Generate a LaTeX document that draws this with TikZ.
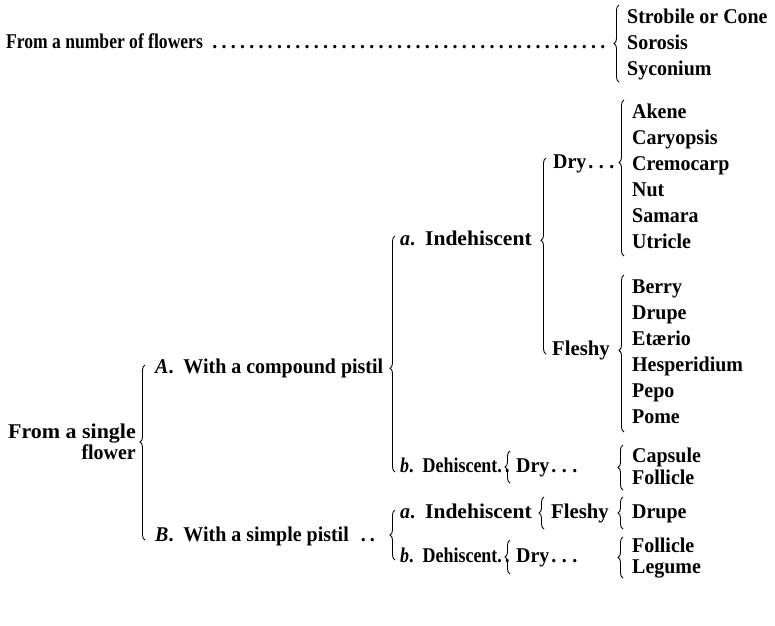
\documentclass[tikz,border=0pt]{standalone}
\usepackage{fontspec}
\usepackage{graphicx}
\setmainfont{Liberation Serif}[FakeStretch=0.95]
\usetikzlibrary{decorations.pathreplacing}
\newcommand{\hsq}[2]{\scalebox{#1}[1]{#2}}
\newcommand{\sdots}{\hspace{2pt}.\hspace{5.5pt}.\hspace{5.5pt}.}
\begin{document}
\begin{tikzpicture}[x=1pt,y=-1pt,
  every node/.style={inner sep=0pt, text height=14pt, text depth=4pt,
    font=\fontsize{21}{26}\selectfont\bfseries},
  lbl/.style={anchor=west},
  item/.style={anchor=west},
  br/.style={decorate, decoration={brace, amplitude=5pt, aspect=#1}, line width=0.9pt},
  br/.default=0.5
]
\useasboundingbox (0,0) rectangle (775,625);

% ---------- from a number of flowers
\node[lbl] (many) at (6,43) {\hsq{0.88}{From a number of flowers}\hspace{4pt}\makebox[404pt]{\dotfill}};
\foreach \t [count=\i] in {Strobile or Cone,Sorosis,Syconium}
  \node[item] (m\i) at (627,18+26*\i-26) {\t};
\coordinate (b1b) at (619,82); \coordinate (b1t) at (619,5);
\draw[br] (b1b) -- (b1t);

% ---------- from a single flower
\node[anchor=east, align=right, text height=, text depth=,
  font=\fontsize{21}{19}\selectfont\bfseries] (single) at (136,442) {\hsq{1.1}{From a single}\\flower};
\coordinate (b8b) at (145,540); \coordinate (b8t) at (145,365);
\draw[br=0.56] (b8b) -- (b8t);

% A. compound pistil
\node[lbl] (A) at (155,368) {\textit{A}.\ \ With a compound pistil};
\coordinate (b5b) at (395,472); \coordinate (b5t) at (395,236);
\draw[br=0.44] (b5b) -- (b5t);

\node[lbl] (aI) at (400,240) {\textit{a}.\ \ \hsq{1.08}{Indehiscent}};
\coordinate (b4b) at (546,354); \coordinate (b4t) at (546,158);
\draw[br=0.58] (b4b) -- (b4t);

\node[lbl] (dry1) at (553,163) {Dry\sdots};
\foreach \t [count=\i] in {Akene,Caryopsis,Cremocarp,Nut,Samara,Utricle}
  \node[item] (d\i) at (632,113+26*\i-26) {\t};
\coordinate (b2b) at (624,256); \coordinate (b2t) at (624,100);
\draw[br=0.6] (b2b) -- (b2t);

\node[lbl] (fl1) at (552,350) {\hsq{1.04}{Fleshy}};
\foreach \t [count=\i] in {Berry,Drupe,Etærio,Hesperidium,Pepo,Pome}
  \node[item] (f\i) at (632,288+26*\i-26) {\t};
\coordinate (b3b) at (624,432); \coordinate (b3t) at (624,275);
\draw[br=0.52] (b3b) -- (b3t);

\node[lbl] (bD) at (400,467) {\hsq{0.9}{\textit{b}.\ \ Dehiscent.\,.}};
\coordinate (b6b) at (510,483); \coordinate (b6t) at (510,451);
\draw[br] (b6b) -- (b6t);
\node[lbl] (dry2) at (516,467) {Dry\sdots};
\node[item] (c1) at (632,457) {Capsule};
\node[item] (c2) at (632,479) {Follicle};
\coordinate (b7b) at (623,490); \coordinate (b7t) at (623,445);
\draw[br] (b7b) -- (b7t);

% B. simple pistil
\node[lbl] (B) at (155,536) {\textit{B}.\ \ With a simple pistil\hspace{12pt}.\hspace{4pt}.};
\coordinate (b9b) at (395,560); \coordinate (b9t) at (395,510);
\draw[br] (b9b) -- (b9t);

\node[lbl] (aI2) at (400,513) {\textit{a}.\ \ \hsq{1.08}{Indehiscent}};
\coordinate (b10b) at (544,529); \coordinate (b10t) at (544,497);
\draw[br] (b10b) -- (b10t);
\node[lbl] (fl2) at (551,513) {\hsq{1.04}{Fleshy}};
\coordinate (b11b) at (623,529); \coordinate (b11t) at (623,497);
\draw[br] (b11b) -- (b11t);
\node[item] (dr) at (632,513) {Drupe};

\node[lbl] (bD2) at (400,557) {\hsq{0.9}{\textit{b}.\ \ Dehiscent.\,.}};
\coordinate (b12b) at (510,574); \coordinate (b12t) at (510,540);
\draw[br] (b12b) -- (b12t);
\node[lbl] (dry3) at (516,557) {Dry\sdots};
\node[item] (g1) at (632,547) {Follicle};
\node[item] (g2) at (632,568) {Legume};
\coordinate (b13b) at (623,578); \coordinate (b13t) at (623,537);
\draw[br] (b13b) -- (b13t);
\end{tikzpicture}
\end{document}
